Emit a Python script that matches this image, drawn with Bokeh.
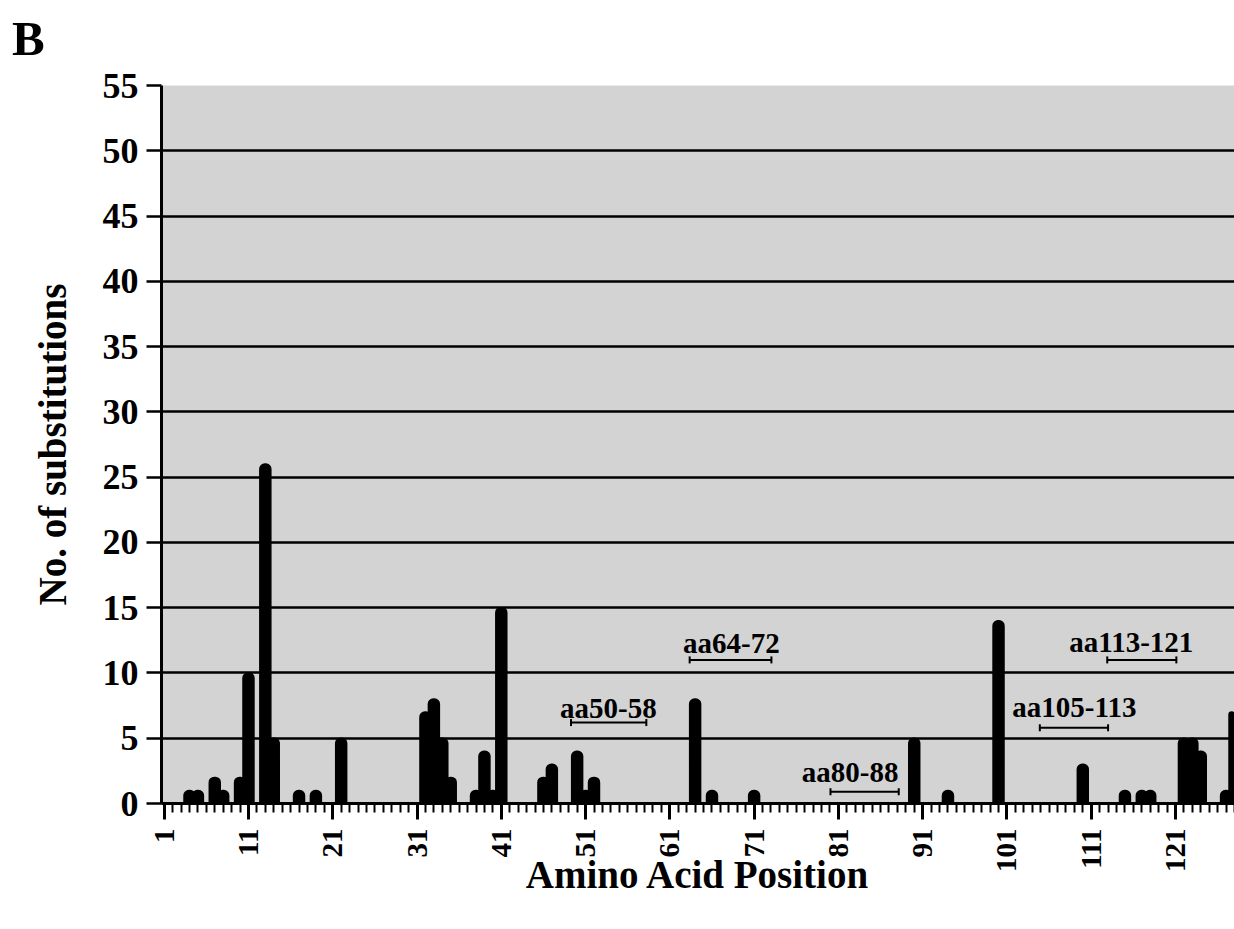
import math
from bokeh.plotting import figure
from bokeh.models import FixedTicker, Range1d, Div
from bokeh.layouts import column
from bokeh.core.properties import value
from bokeh.embed import file_html
from bokeh.resources import INLINE

# ---- data ----
positions = [4, 5, 7, 8, 10, 11, 13, 14, 17, 19, 22,
             32, 33, 34, 35, 38, 39, 40, 41, 46, 47, 50, 51, 52,
             64, 66, 71, 90, 94, 100, 110, 115, 117, 118,
             122, 123, 124, 127, 128]
counts = [1, 1, 2, 1, 2, 10, 26, 5, 1, 1, 5,
          7, 8, 5, 2, 1, 4, 1, 15, 2, 3, 4, 1, 2,
          8, 1, 1, 5, 1, 14, 3, 1, 1, 1,
          5, 5, 4, 1, 7]
x_major_ticks = [1, 11, 21, 31, 41, 51, 61, 71, 81, 91, 101, 111, 121]
x_minor_ticks = list(range(1, 129))
y_ticks = [0, 5, 10, 15, 20, 25, 30, 35, 40, 45, 50, 55]

ann_labels = ["aa50-58", "aa64-72", "aa80-88", "aa105-113", "aa113-121"]
ann_start = [49.27, 63.35, 80.06, 104.9, 112.9]
ann_end = [58.21, 73.05, 88.16, 113.0, 121.1]
ann_level = [6.2, 11.0, 0.9, 5.8, 11.0]
ann_text_x = [53.7, 68.3, 82.4, 109.0, 115.75]
ann_text_y = [7.35, 12.32, 2.45, 7.40, 12.40]

SERIF = "Liberation Serif"

# panel letter (placed above the chart)
letter = Div(text="B", width=1234, height=60, margin=(0, 0, 0, 0),
             styles={"font-family": SERIF, "font-weight": "bold",
                     "font-size": "49px", "line-height": "49px",
                     "color": "black", "padding-top": "14px",
                     "padding-left": "12px", "box-sizing": "border-box"})

p = figure(width=1234, height=865,
           x_range=Range1d(0.68, 128.0), y_range=Range1d(0, 55),
           output_backend="svg", toolbar_location=None,
           min_border_left=161, min_border_right=0,
           min_border_top=25, min_border_bottom=122,
           margin=(0, 0, 0, 0))

p.background_fill_color = "#d3d3d3"
p.border_fill_color = "white"
p.outline_line_color = None

# grid
p.xgrid.visible = False
p.ygrid.ticker = FixedTicker(ticks=y_ticks)
p.ygrid.grid_line_color = "black"
p.ygrid.grid_line_width = 2.5

# bars
p.vbar(x=positions, top=counts, width=1.3, fill_color="black",
       line_color="black", line_width=1.5, border_radius=(5, 5, 0, 0))

# annotations (epitope ranges)
p.segment(x0=ann_start, y0=ann_level, x1=ann_end, y1=ann_level,
          line_color="black", line_width=2)
p.scatter(x=ann_start + ann_end, y=ann_level + ann_level, marker="dash",
          angle=math.pi / 2, size=7, line_color="black", line_width=2)
p.text(x=ann_text_x, y=ann_text_y, text=ann_labels,
       text_font=value(SERIF), text_font_style="bold",
       text_font_size="29px", text_align="center",
       text_baseline="middle", text_color="black")

# x axis
xa = p.xaxis[0]
xa.ticker = FixedTicker(ticks=x_major_ticks, minor_ticks=x_minor_ticks)
xa.axis_line_width = 3
xa.axis_line_color = "black"
xa.major_tick_in = 0
xa.major_tick_out = 16
xa.major_tick_line_width = 3
xa.minor_tick_in = 0
xa.minor_tick_out = 9
xa.minor_tick_line_width = 2
xa.major_label_orientation = math.pi / 2
xa.major_label_text_font = SERIF
xa.major_label_text_font_style = "bold"
xa.major_label_text_font_size = "29px"
xa.major_label_text_color = "black"
xa.major_label_standoff = 9
xa.axis_label = "Amino Acid Position"
xa.axis_label_text_font = SERIF
xa.axis_label_text_font_style = "bold"
xa.axis_label_text_font_size = "39px"
xa.axis_label_text_color = "black"
xa.axis_label_standoff = -22

# y axis
ya = p.yaxis[0]
ya.ticker = FixedTicker(ticks=y_ticks, minor_ticks=[])
ya.axis_line_width = 3
ya.axis_line_color = "black"
ya.major_tick_in = 0
ya.major_tick_out = 15
ya.major_tick_line_width = 2.5
ya.minor_tick_out = 0
ya.minor_tick_in = 0
ya.major_label_text_font = SERIF
ya.major_label_text_font_style = "bold"
ya.major_label_text_font_size = "36px"
ya.major_label_text_color = "black"
ya.major_label_standoff = 8
ya.axis_label = "No. of substitutions"
ya.axis_label_text_font = SERIF
ya.axis_label_text_font_style = "bold"
ya.axis_label_text_font_size = "39px"
ya.axis_label_text_color = "black"
ya.axis_label_standoff = 26

layout = column(letter, p, spacing=0, margin=(0, 0, 0, 0))

open("out.html", "w").write(file_html(layout, INLINE))
